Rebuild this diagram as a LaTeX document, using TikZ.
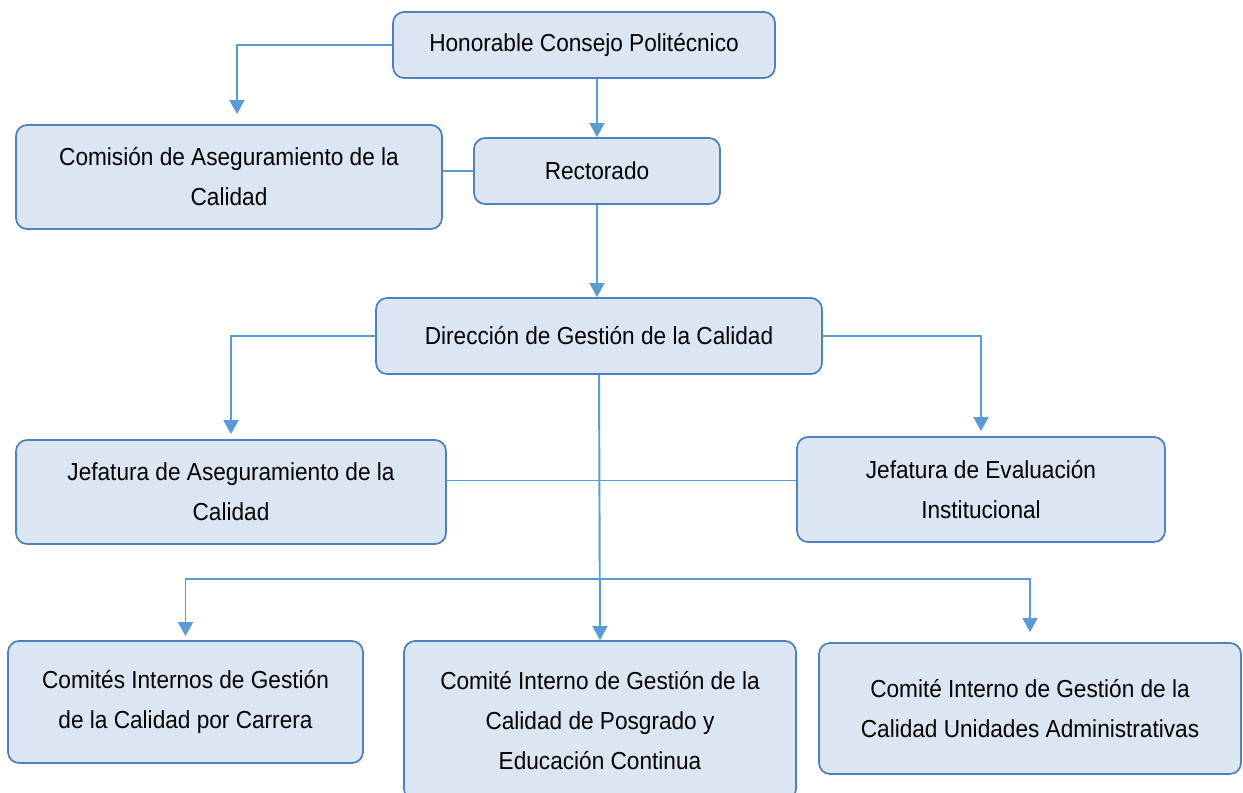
\documentclass[tikz,border=0pt]{standalone}
\usepackage{fontspec}
\setmainfont{Liberation Sans}[FakeStretch=0.92]
\usetikzlibrary{arrows.meta}
\definecolor{boxfill}{RGB}{220,230,242}
\definecolor{boxline}{RGB}{79,129,189}
\definecolor{linkcol}{RGB}{91,155,213}
\tikzset{
	unit/.style={draw=boxline, fill=boxfill, line width=1pt, rounded corners=0.22cm, align=center, inner sep=0pt, font=\fontsize{14}{22.8}\selectfont},
	link/.style={draw=linkcol, line width=1.1pt},
	arr/.style={link, -{Triangle[length=8pt,width=8.5pt]}}
}
\begin{document}
\begin{tikzpicture}[x=0.02cm, y=-0.02cm]
		\useasboundingbox (0,0) rectangle (1243,792);
		% Boxes
		\node[unit, minimum width=7.64cm, minimum height=1.32cm] (hcp) at (584,45) {Honorable Consejo Politécnico};
		\node[unit, minimum width=8.52cm, minimum height=2.08cm] (cac) at (229,177) {Comisión de Aseguramiento de la\\Calidad};
		\node[unit, minimum width=4.92cm, minimum height=1.32cm] (rec) at (597,171) {Rectorado};
		\node[unit, minimum width=8.92cm, minimum height=1.52cm] (dgc) at (599,336) {Dirección de Gestión de la Calidad};
		\node[unit, minimum width=8.6cm, minimum height=2.08cm] (jac) at (231,492) {Jefatura de Aseguramiento de la\\Calidad};
		\node[unit, minimum width=7.36cm, minimum height=2.1cm] (jei) at (981,489.5) {Jefatura de Evaluación\\Institucional};
		\node[unit, minimum width=7.1cm, minimum height=2.44cm] (cic) at (185.5,702) {Comités Internos de Gestión\\de la Calidad por Carrera};
		\node[unit, minimum width=7.84cm, minimum height=3.18cm] (cip) at (600,720.5) {Comité Interno de Gestión de la\\Calidad de Posgrado y\\Educación Continua};
		\node[unit, minimum width=8.44cm, minimum height=2.62cm] (ciu) at (1030,708.5) {Comité Interno de Gestión de la\\Calidad Unidades Administrativas};
		% Connectors
		\draw[arr, shorten >=10*0.02cm] (hcp.west) -| ([xshift=0.16cm]cac.north);
		\draw[arr] (hcp.south -| rec.north) -- (rec.north);
		\draw[link] (rec.west) -- (rec.west -| cac.east);
		\draw[arr] (rec.south) -- (rec.south |- dgc.north);
		\draw[arr, shorten >=5*0.02cm] (dgc.west) -| (jac.north);
		\draw[arr, shorten >=5*0.02cm] (dgc.east) -| (jei.north);
		\draw[link] ([yshift=0.18cm]jei.west) -- ([yshift=0.18cm]jei.west -| jac.east);
		\draw[arr] (dgc.south) -- (cip.north);
		\coordinate (fork) at (dgc.south |- 0,579);
		\draw[arr, shorten >=4*0.02cm] (fork) -| (cic.north);
		\draw[arr, shorten >=10*0.02cm] (fork) -| (ciu.north);
	\end{tikzpicture}
\end{document}
